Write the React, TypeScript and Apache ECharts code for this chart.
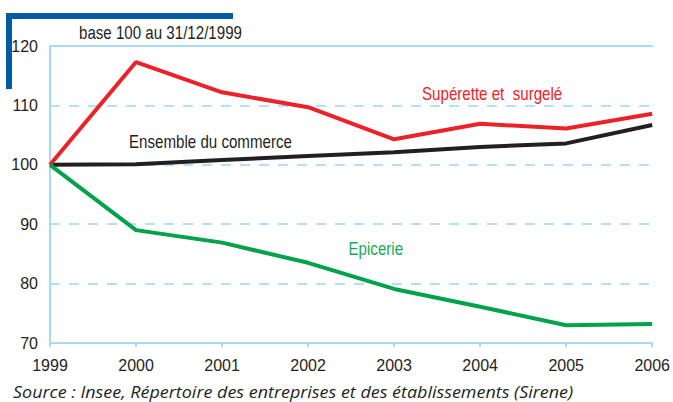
import React, { useEffect, useRef } from "react";
import * as echarts from "echarts";

const years = ["1999", "2000", "2001", "2002", "2003", "2004", "2005", "2006"];
const superette = [100, 117.3, 112.2, 109.7, 104.3, 106.9, 106.1, 108.6];
const ensemble = [100, 100.1, 100.8, 101.5, 102.1, 103.0, 103.6, 106.7];
const epicerie = [100, 89.0, 86.9, 83.5, 79.1, 76.1, 73.0, 73.2];
const yTicks = { min: 70, max: 120, interval: 10 };

const SANS = '"Liberation Sans", Arial, Helvetica, sans-serif';
const AXIS_BLUE = "#a6daf4";
const SX = 0.84;

export default function App() {
  const ref = useRef<HTMLDivElement>(null);
  useEffect(() => {
    if (!ref.current) return;
    const chart = echarts.init(ref.current, null, { renderer: "svg" });
    const label = (text: string, x: number, y: number, fill: string) => ({
      type: "text",
      x,
      y,
      scaleX: SX,
      style: { text, font: `18px ${SANS}`, fill, textVerticalAlign: "middle" },
    });
    chart.setOption({
      animation: false,
      backgroundColor: "#ffffff",
      grid: { left: 50, right: 18, top: 46, bottom: 59, containLabel: false },
      xAxis: [
        {
          type: "category",
          data: years,
          boundaryGap: false,
          axisLine: { show: true, lineStyle: { color: AXIS_BLUE, width: 2 } },
          axisTick: { show: true, length: 4, lineStyle: { color: AXIS_BLUE, width: 2 } },
          axisLabel: { color: "#231f20", fontFamily: SANS, fontSize: 16, margin: 14 },
          splitLine: { show: false },
        },
        {
          type: "category",
          data: years,
          boundaryGap: false,
          position: "top",
          axisLine: { show: true, lineStyle: { color: AXIS_BLUE, width: 2 } },
          axisTick: { show: false },
          axisLabel: { show: false },
          splitLine: { show: false },
        },
      ],
      yAxis: {
        type: "value",
        min: yTicks.min,
        max: yTicks.max,
        interval: yTicks.interval,
        axisLine: { show: true, lineStyle: { color: AXIS_BLUE, width: 2 } },
        axisTick: { show: false },
        axisLabel: { color: "#231f20", fontFamily: SANS, fontSize: 16, margin: 12 },
        splitLine: { show: true, lineStyle: { color: "#b2e0f6", width: 2, type: [10, 9] } },
      },
      series: [
        {
          type: "line",
          data: ensemble,
          symbol: "none",
          lineStyle: { color: "#231f20", width: 4 },
          z: 3,
        },
        {
          type: "line",
          data: superette,
          symbol: "none",
          lineStyle: { color: "#ec2229", width: 4 },
          z: 4,
        },
        {
          type: "line",
          data: epicerie,
          symbol: "none",
          lineStyle: { color: "#00a24a", width: 4 },
          z: 4,
        },
      ],
      graphic: [
        { type: "rect", shape: { x: 6, y: 13, width: 227, height: 6 }, style: { fill: "#005ba6" } },
        { type: "rect", shape: { x: 6, y: 13, width: 6, height: 76 }, style: { fill: "#005ba6" } },
        label("base 100 au 31/12/1999", 79, 33.5, "#231f20"),
        label("Supérette et  surgelé", 422, 94.5, "#ec2229"),
        label("Ensemble du commerce", 129, 142, "#231f20"),
        label("Epicerie", 348.5, 248.7, "#1aa85a"),
        {
          type: "text",
          x: 13,
          y: 391,
          scaleX: 1.055,
          style: {
            text: "Source : Insee, Répertoire des entreprises et des établissements (Sirene)",
            font: 'italic 17px "Open Sans", Lato, sans-serif',
            fill: "#231f20",
            textVerticalAlign: "middle",
          },
        },
      ],
    });
    return () => chart.dispose();
  }, []);
  return <div ref={ref} style={{ width: 673, height: 402, position: "absolute", left: 0, top: 0 }} />;
}
